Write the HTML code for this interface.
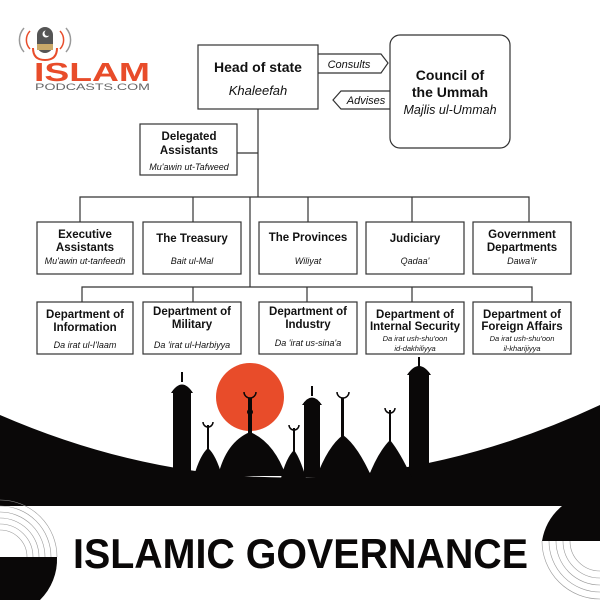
<!DOCTYPE html>
<html><head><meta charset="utf-8"><style>
body{margin:0;width:600px;height:600px;overflow:hidden;background:#fff;font-family:"Liberation Sans",sans-serif}
svg{display:block}
.b{font-weight:bold;fill:#111}
.i{font-style:italic;fill:#111}
</style></head><body>
<svg width="600" height="600" viewBox="0 0 600 600" xmlns="http://www.w3.org/2000/svg">
<g>
<path d="M24 28 A18 18 0 0 0 24 52" fill="none" stroke="#999" stroke-width="1.5"/>
<path d="M30 31 A13 13 0 0 0 30 49" fill="none" stroke="#e84c2a" stroke-width="1.5"/>
<path d="M66 28 A18 18 0 0 1 66 52" fill="none" stroke="#999" stroke-width="1.5"/>
<path d="M60 31 A13 13 0 0 1 60 49" fill="none" stroke="#e84c2a" stroke-width="1.5"/>
<rect x="37" y="27" width="16" height="26" rx="8" fill="#555"/>
<rect x="37" y="44" width="16" height="6" fill="#c9a96a"/>
<circle cx="46" cy="34" r="3.5" fill="#fff"/><circle cx="47.5" cy="33" r="3" fill="#555"/>
<path d="M33 48 Q33 60 45 60 Q57 60 57 48" fill="none" stroke="#e84c2a" stroke-width="2"/>
<text x="34" y="81" font-size="26" font-weight="bold" fill="#e84c2a" textLength="116" lengthAdjust="spacingAndGlyphs">ISLAM</text>
<text x="35" y="90" font-size="9" fill="#666" textLength="115" lengthAdjust="spacingAndGlyphs">PODCASTS.COM</text>
</g>
<g fill="none" stroke="#333" stroke-width="1.2">
<rect x="198" y="45" width="120" height="64" fill="#fff"/>
<rect x="390" y="35" width="120" height="113" rx="10" fill="#fff"/>
<path d="M318 54 H381 L388 63 L381 73 H318"/>
<path d="M390 91 H341 L333 100 L341 109 H390"/>
<rect x="140" y="124" width="97" height="51"/>
<path d="M237 153 H258 M258 109 V197 M80 222 V197 H529 V222 M193 197 V222 M308 197 V222 M412 197 V222 M250 197 V287 M82 302 V287 H532 V302 M193 287 V302 M307 287 V302 M412 287 V302"/>
<rect x="37" y="222" width="96" height="52"/><rect x="143" y="222" width="98" height="52"/><rect x="259" y="222" width="98" height="52"/><rect x="366" y="222" width="98" height="52"/><rect x="473" y="222" width="98" height="52"/>
<rect x="37" y="302" width="96" height="52"/><rect x="143" y="302" width="98" height="52"/><rect x="259" y="302" width="98" height="52"/><rect x="366" y="302" width="98" height="52"/><rect x="473" y="302" width="98" height="52"/>
</g>
<g text-anchor="middle">
<text x="258" y="72" class="b" font-size="14">Head of state</text>
<text x="258" y="95" class="i" font-size="13">Khaleefah</text>
<text x="450" y="80" class="b" font-size="14">Council of</text>
<text x="450" y="97" class="b" font-size="14">the Ummah</text>
<text x="450" y="114" class="i" font-size="12.5">Majlis ul-Ummah</text>
<text x="349" y="68" class="i" font-size="11">Consults</text>
<text x="366" y="104" class="i" font-size="11">Advises</text>
<text x="189" y="140" class="b" font-size="11.5">Delegated</text>
<text x="189" y="154" class="b" font-size="11.5">Assistants</text>
<text x="189" y="170" class="i" font-size="9">Mu'awin ut-Tafweed</text>
<g font-size="11.5">
<text x="85" y="238" class="b">Executive</text><text x="85" y="251" class="b">Assistants</text><text x="85" y="264" class="i" font-size="9">Mu'awin ut-tanfeedh</text>
<text x="192" y="242" class="b">The Treasury</text><text x="192" y="264" class="i" font-size="9">Bait ul-Mal</text>
<text x="308" y="241" class="b">The Provinces</text><text x="308" y="264" class="i" font-size="9">Wiliyat</text>
<text x="415" y="242" class="b">Judiciary</text><text x="415" y="264" class="i" font-size="9">Qadaa'</text>
<text x="522" y="238" class="b">Government</text><text x="522" y="251" class="b">Departments</text><text x="522" y="264" class="i" font-size="9">Dawa'ir</text>
<text x="85" y="318" class="b">Department of</text><text x="85" y="331" class="b">Information</text><text x="85" y="348" class="i" font-size="9">Da irat ul-I'laam</text>
<text x="192" y="315" class="b">Department of</text><text x="192" y="328" class="b">Military</text><text x="192" y="348" class="i" font-size="9">Da 'irat ul-Harbiyya</text>
<text x="308" y="315" class="b">Department of</text><text x="308" y="328" class="b">Industry</text><text x="308" y="346" class="i" font-size="9">Da 'irat us-sina'a</text>
<text x="415" y="318" class="b">Department of</text><text x="415" y="330" class="b">Internal Security</text><text x="415" y="341" class="i" font-size="7.5">Da irat ush-shu'oon</text><text x="415" y="351" class="i" font-size="7.5">id-dakhiliyya</text>
<text x="522" y="318" class="b">Department of</text><text x="522" y="330" class="b">Foreign Affairs</text><text x="522" y="341" class="i" font-size="7.5">Da irat ush-shu'oon</text><text x="522" y="351" class="i" font-size="7.5">il-kharijiyya</text>
</g>
</g>
<circle cx="250" cy="397" r="34" fill="#e84c2a"/>
<path d="M0 415 Q300 545 600 405 V506 H0 Z" fill="#0a0808"/>
<g fill="#0a0808">
<rect x="173" y="390" width="18" height="85"/><path d="M171 393 Q182 376 193 393Z"/><rect x="181" y="372" width="2" height="10"/>
<rect x="304" y="402" width="16" height="75"/><path d="M302 405 Q312 390 322 405Z"/><rect x="311" y="386" width="2" height="10"/>
<rect x="409" y="372" width="20" height="105"/><path d="M407 375 Q419 357 431 375Z"/><rect x="418" y="357" width="2" height="10"/>
<path d="M218 476 Q226 442 250 432 Q274 442 286 476Z"/><rect x="248" y="398" width="4" height="36"/><circle cx="250" cy="412" r="3"/>
<path d="M194 476 Q200 455 208 448 Q216 455 222 476Z"/><rect x="207" y="425" width="2" height="24"/>
<path d="M281 478 Q286 458 294 450 Q300 458 306 478Z"/><rect x="293" y="428" width="2" height="24"/>
<path d="M316 478 Q328 446 343 435 Q358 446 372 478Z"/><rect x="341" y="398" width="3" height="40"/>
<path d="M368 478 Q378 452 390 440 Q400 452 412 478Z"/><rect x="389" y="410" width="2" height="32"/>
</g>
<g fill="none" stroke="#0a0808" stroke-width="1.5">
<path d="M244 392 A6 6 0 0 0 256 392"/><path d="M337 392 A6 6 0 0 0 349 392"/><path d="M385 408 A5 5 0 0 0 395 408"/><path d="M203 422 A5 5 0 0 0 213 422"/><path d="M289 425 A5 5 0 0 0 299 425"/>
</g>
<path d="M600 506 V541 H542 A58 58 0 0 1 562 506Z" fill="#0a0808"/>
<path d="M0 557 H57 A57 57 0 0 1 40 600 H0Z" fill="#0a0808"/>
<g fill="none" stroke="#999" stroke-width="0.6">
<path d="M0 500 A57 57 0 0 1 57 557"/><path d="M0 506 A51 51 0 0 1 51 557"/><path d="M0 512 A45 45 0 0 1 45 557"/><path d="M0 518 A39 39 0 0 1 39 557"/><path d="M0 524 A33 33 0 0 1 33 557"/><path d="M0 530 A27 27 0 0 1 27 557"/>
<path d="M542 541 A58 58 0 0 0 600 599"/><path d="M549 541 A51 51 0 0 0 600 592"/><path d="M556 541 A44 44 0 0 0 600 585"/><path d="M563 541 A37 37 0 0 0 600 578"/><path d="M570 541 A30 30 0 0 0 600 571"/>
</g>
<text x="73" y="568" font-size="42" font-weight="bold" fill="#0a0808" textLength="455" lengthAdjust="spacingAndGlyphs">ISLAMIC GOVERNANCE</text>
</svg>
</body></html>
